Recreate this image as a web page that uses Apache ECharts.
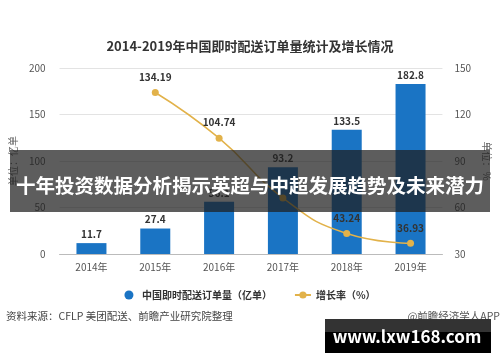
<!DOCTYPE html>
<html><head><meta charset="utf-8">
<script src="https://cdn.jsdelivr.net/npm/echarts@6/dist/echarts.min.js"></script>
<style>html,body{margin:0;padding:0;background:#fff;}#c{width:500px;height:362px;}</style>
</head><body><div id="c"></div>
<script>
const years = ['2014年','2015年','2016年','2017年','2018年','2019年'];
const orders = [11.7, 27.4, 56.1, 93.2, 133.5, 182.8];
const growth = [null, 134.19, 104.74, 66.13, 43.24, 36.93];
const growthLabels = [null, '134.19', '104.74', '', '43.24', '36.93'];
const leftTicks = [0, 200, 50];
const rightTicks = [30, 150, 30];

const chart = echarts.init(document.getElementById('c'));
const FONT = '"Noto Sans CJK SC", "Noto Sans", sans-serif';
chart.setOption({
  backgroundColor: '#fff',
  animation: false,
  textStyle: { fontFamily: FONT },
  title: {
    text: '2014-2019年中国即时配送订单量统计及增长情况',
    left: 'center', top: 35,
    textStyle: { fontSize: 13, fontWeight: 'bold', color: '#333', fontFamily: FONT }
  },
  grid: { left: 58, right: 55, top: 68, bottom: 108 },
  legend: {
    top: 285, left: 'center', itemGap: 22, itemWidth: 16, itemHeight: 9,
    textStyle: { fontSize: 10, color: '#333', fontWeight: 'bold' },
    data: [
      { name: '中国即时配送订单量（亿单）', icon: 'circle' },
      { name: '增长率（%）' }
    ]
  },
  xAxis: {
    type: 'category', data: years,
    axisTick: { show: false },
    axisLine: { lineStyle: { color: '#bbb' } },
    axisLabel: { color: '#555', fontSize: 10, margin: 8 }
  },
  yAxis: [
    {
      type: 'value', min: leftTicks[0], max: leftTicks[1], interval: leftTicks[2],
      name: '单位：亿单', nameLocation: 'middle', nameGap: 34, nameRotate: 90,
      nameTextStyle: { color: '#666', fontSize: 10 },
      axisLine: { show: false }, axisTick: { show: false },
      axisLabel: { color: '#555', fontSize: 10, margin: 14 },
      splitLine: { lineStyle: { color: '#e3e3e3' } }
    },
    {
      type: 'value', min: rightTicks[0], max: rightTicks[1], interval: rightTicks[2],
      name: '单位：%', nameLocation: 'middle', nameGap: 30, nameRotate: 270,
      nameTextStyle: { color: '#666', fontSize: 10 },
      axisLine: { show: false }, axisTick: { show: false },
      axisLabel: { color: '#555', fontSize: 10, margin: 12 },
      splitLine: { show: false }
    }
  ],
  series: [
    {
      name: '中国即时配送订单量（亿单）', type: 'bar', data: orders, barWidth: 30,
      itemStyle: { color: '#1a74c4' },
      label: { show: true, position: 'top', color: '#333', fontWeight: 'bold', fontSize: 10, distance: 4 }
    },
    {
      name: '增长率（%）', type: 'line', yAxisIndex: 1, data: growth, smooth: true,
      symbol: 'circle', symbolSize: 7,
      itemStyle: { color: '#e2b24a' },
      lineStyle: { color: '#e2b24a', width: 1.5 },
      label: {
        show: true, position: 'top', fontSize: 10, fontWeight: 'bold', color: '#333', distance: 7,
        formatter: p => growthLabels[p.dataIndex] || ''
      },
      z: 5
    }
  ],
  graphic: [
    { type: 'text', left: 6, top: 311, style: { text: '资料来源：CFLP 美团配送、前瞻产业研究院整理', fill: '#444', font: '10.5px ' + FONT } },
    { type: 'text', right: 0, top: 311, style: { text: '@前瞻经济学人APP', fill: '#555', font: '10.5px ' + FONT } },
    { type: 'rect', shape: { x: 10, y: 150, width: 480, height: 62 }, style: { fill: 'rgba(30,30,30,0.72)' }, z: 100 },
    { type: 'text', x: 250, y: 186, z: 101, style: { text: '十年投资数据分析揭示英超与中超发展趋势及未来潜力', fill: '#fff', font: 'bold 19.5px ' + FONT, align: 'center', verticalAlign: 'middle' } },
    { type: 'rect', shape: { x: 325, y: 319, width: 166, height: 34 }, style: { fill: '#000' }, z: 100 },
    { type: 'rect', shape: { x: 325, y: 319, width: 166, height: 13 }, style: { fill: '#333' }, z: 100 },
    { type: 'text', x: 407, y: 337, z: 101, style: { text: 'www.lxw168.com', fill: '#fff', font: 'bold 17px ' + FONT, align: 'center', verticalAlign: 'middle' } }
  ]
});
</script></body></html>
